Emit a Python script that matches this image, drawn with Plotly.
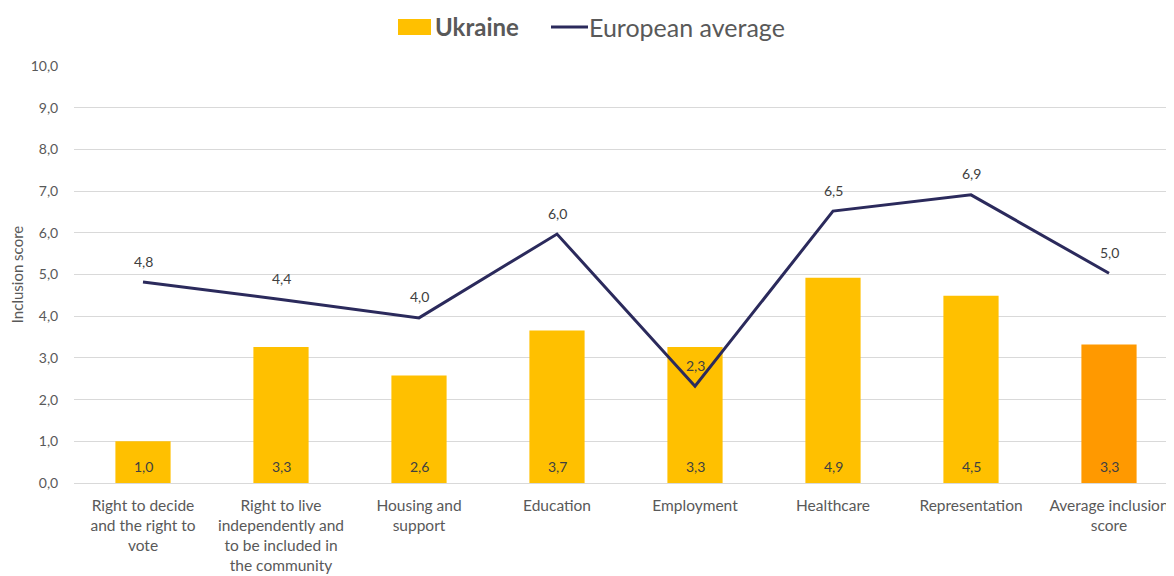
import plotly.graph_objects as go

categories = [
    "Right to decide<br>and the right to<br>vote",
    "Right to live<br>independently and<br>to be included in<br>the community",
    "Housing and<br>support",
    "Education",
    "Employment",
    "Healthcare",
    "Representation",
    "Average inclusion<br>score",
]
ukraine = [1.0, 3.26, 2.58, 3.66, 3.26, 4.92, 4.49, 3.32]
european = [4.82, 4.4, 3.96, 5.97, 2.32, 6.52, 6.91, 5.03]
bar_colors = ["#FFC000"] * 7 + ["#FF9900"]
y_ticks = [i for i in range(0, 11)]

def fmt(v):
    return f"{v:.1f}".replace(".", ",")

FONT = "Lato, Open Sans, sans-serif"
TXT = "#595959"
LINE = "#2B2A5C"

# plot area (figure coords): x 66..1170, y 58..475 ; page is offset by 8px
PW, PH = 1104, 417
def px(xpage):
    return (xpage - 74) / PW
def py(ypage):
    return (483 - ypage) / PH

fig = go.Figure()
fig.add_trace(go.Bar(
    x=categories, y=ukraine, name="Ukraine",
    marker=dict(color=bar_colors, line=dict(width=0)),
    width=0.4, showlegend=False,
))
fig.add_trace(go.Scatter(
    x=categories, y=european, name="European average",
    mode="lines", line=dict(color=LINE, width=3), showlegend=False,
))
for c, v in zip(categories, ukraine):
    fig.add_annotation(x=c, y=0, text=fmt(v), showarrow=False, yshift=17,
                       font=dict(family=FONT, size=14, color="#404040"))
for c, v in zip(categories, european):
    fig.add_annotation(x=c, y=v, text=fmt(v), showarrow=False, yshift=21,
                       font=dict(family=FONT, size=14, color="#404040"))

# custom legend (top centre)
fig.add_shape(type="rect", xref="paper", yref="paper",
              x0=px(398), x1=px(431), y0=py(35), y1=py(19),
              fillcolor="#FFC000", line=dict(width=0))
fig.add_annotation(xref="paper", yref="paper", x=px(433), y=py(27),
                   xanchor="left", yanchor="middle", showarrow=False,
                   text="<b>Ukraine</b>", font=dict(family=FONT, size=24, color=TXT))
fig.add_shape(type="line", xref="paper", yref="paper",
              x0=px(551), x1=px(588), y0=py(27), y1=py(27),
              line=dict(color=LINE, width=3))
fig.add_annotation(xref="paper", yref="paper", x=px(587), y=py(27),
                   xanchor="left", yanchor="middle", showarrow=False,
                   text="European average", font=dict(family=FONT, size=25, color=TXT))

fig.update_layout(
    width=1174, height=576,
    margin=dict(l=66, r=4, t=58, b=101, autoexpand=False),
    paper_bgcolor="white", plot_bgcolor="white",
    font=dict(family=FONT, color=TXT),
    showlegend=False,
    bargap=0.6,
    xaxis=dict(tickfont=dict(family=FONT, size=15.5, color=TXT), showgrid=False,
               showline=True, linecolor="#d9d9d9", linewidth=1, ticks="",
               ticklabelstandoff=8,
               range=[-0.5, 7.5], automargin=False),
    yaxis=dict(range=[0, 10], tickvals=y_ticks, ticktext=[fmt(v) for v in y_ticks],
               tickfont=dict(family=FONT, size=14, color=TXT),
               showgrid=True, gridcolor="#d9d9d9", gridwidth=1, zeroline=False,
               title=dict(text="Inclusion score", font=dict(family=FONT, size=15, color=TXT), standoff=12),
               ticks="outside", ticklen=12, tickcolor="white", automargin=False),
)
fig.write_html("out.html")
